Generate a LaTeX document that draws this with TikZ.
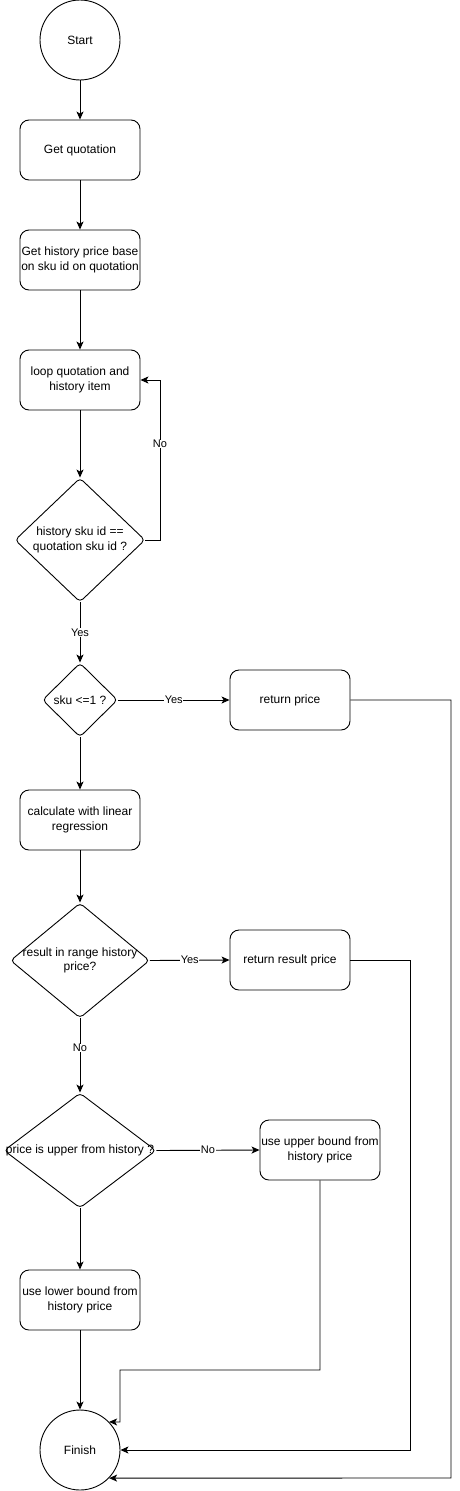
\documentclass[tikz,border=0pt]{standalone}
\usepackage{fontspec}
\setmainfont{Liberation Sans}
\usetikzlibrary{arrows.meta,shapes.geometric}
\begin{document}
\begin{tikzpicture}[x=1pt,y=-1pt,
  every node/.style={font=\fontsize{12}{14.5}\selectfont},
  proc/.style={draw, rounded corners=9pt, minimum width=120pt, minimum height=60pt, align=center, inner sep=0pt, line width=0.9pt},
  term/.style={draw, circle, minimum size=80pt, inner sep=0pt, line width=0.9pt},
  dia/.style={draw, diamond, rounded corners=4pt, inner sep=0pt, line width=0.9pt},
  lbl/.style={fill=white, inner sep=0.5pt, font=\fontsize{11}{13}\selectfont},
  conn/.style={line width=0.9pt, -{Stealth[length=8pt,width=7pt,inset=2pt]}}
]
\useasboundingbox (0,0) rectangle (460,1491);
\node[term] (start) at (80,40) {Start};
\node[proc] (q) at (80,150) {Get quotation};
\node[proc] (h) at (80,260) {Get history price base\\on sku id on quotation};
\node[proc] (loop) at (80,380) {loop quotation and\\history item};
\node[dia, minimum width=130pt, minimum height=124pt,
  label={[align=center, font=\fontsize{12}{14.5}\selectfont]center:history sku id ==\\quotation sku id ?}] (d1) at (80,540) {};
\node[dia, minimum width=75pt, minimum height=74pt,
  label={[font=\fontsize{12}{14.5}\selectfont]center:sku <=1 ?}] (d2) at (80,700) {};
\node[proc] (rp) at (290,700) {return price};
\node[proc] (calc) at (80,820) {calculate with linear\\regression};
\node[dia, minimum width=139pt, minimum height=115pt,
  label={[align=center, font=\fontsize{12}{14.5}\selectfont]center:result in range history\\price?}] (d3) at (80,960.5) {};
\node[proc] (rr) at (290,960) {return result price};
\node[dia, minimum width=152pt, minimum height=115pt,
  label={[font=\fontsize{12}{14.5}\selectfont]center:price is upper from history ?}] (d4) at (80,1150.5) {};
\node[proc] (ub) at (320,1150) {use upper bound from\\history price};
\node[proc] (lb) at (80,1300) {use lower bound from\\history price};
\node[term] (fin) at (80,1450) {Finish};

\draw[conn] (start) -- (q);
\draw[conn] (q) -- (h);
\draw[conn] (h) -- (loop);
\draw[conn] (loop) -- (d1);
\draw[conn] (d1.east) -- (160,540) -- node[lbl, pos=0.6]{No} (160,380) -- (loop.east);
\draw[conn] (d1.south) -- node[lbl]{Yes} (d2.north);
\draw[conn] (d2.east) -- node[lbl]{Yes} (rp.west);
\draw[conn] (d2.south) -- (calc.north);
\draw[conn] (calc) -- (d3.north);
\draw[conn] (d3.east) -- node[lbl]{Yes} (rr.west);
\draw[conn] (d3.south) -- node[lbl, pos=0.4]{No} (d4.north);
\draw[conn] (d4.east) -- node[lbl]{No} (ub.west);
\draw[conn] (d4.south) -- (lb.north);
\draw[conn] (lb) -- (fin);
\draw[conn] (ub.south) -- (320,1370) -- (120,1370) -- (120,1422) -- (fin.44);
\draw[conn] (rr.east) -- (410,960) -- (410,1450) -- (fin.east);
\draw[conn] (rp.east) -- (451,700) -- (451,1478) -- (fin.-44);
\end{tikzpicture}
\end{document}
